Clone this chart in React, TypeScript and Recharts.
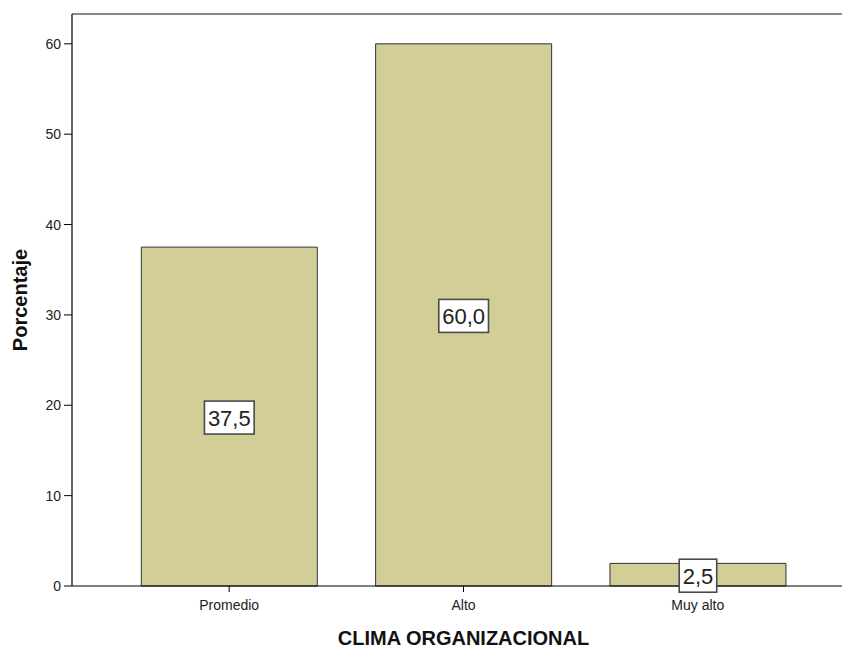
import { BarChart, Bar, XAxis, YAxis, LabelList, ReferenceLine } from 'recharts';

const categories = ['Promedio', 'Alto', 'Muy alto'];
const percentages = [37.5, 60.0, 2.5];
const yTicks = [0, 10, 20, 30, 40, 50, 60];
const yMax = 63.3;

const FONT = '"Liberation Sans", Arial, sans-serif';

const data = categories.map((name, i) => ({ name, pct: percentages[i] }));

const fmt = (v: number) => v.toFixed(1).replace('.', ',');

// white boxed value label in the middle of each bar
const ValueBox = (props: any) => {
  const { x, y, width, height, value } = props;
  const txt = fmt(Number(value));
  const cx = Number(x) + Number(width) / 2;
  const cy = Number(y) + Number(height) / 2 + 1;
  let w = 0;
  for (const ch of txt) w += ch === ',' ? 6.1 : 12.2;
  const bw = w + 7;
  const bh = 33;
  return (
    <g>
      <rect
        x={cx - bw / 2}
        y={cy - bh / 2}
        width={bw}
        height={bh}
        fill="#fff"
        stroke="#4a4a4a"
        strokeWidth={1.6}
      />
      <text
        x={cx}
        y={cy + 8}
        textAnchor="middle"
        fontFamily={FONT}
        fontSize={22}
        fill="#222"
      >
        {txt}
      </text>
    </g>
  );
};

const App = () => {
  return (
    <div style={{ position: 'absolute', left: 0, top: 0 }}>
      <BarChart
        width={842}
        height={648}
        data={data}
        margin={{ top: 14, right: 0, bottom: 0, left: 0 }}
        barCategoryGap="12.5%"
      >
        <XAxis
          dataKey="name"
          height={62}
          padding={{ left: 40, right: 27 }}
          axisLine={{ stroke: '#000', strokeWidth: 1.2 }}
          tickLine={{ stroke: '#000' }}
          tickSize={6}
          tickMargin={8}
          tick={{ fontSize: 14, fill: '#222', fontFamily: FONT }}
          label={{
            content: (p: any) => {
              const vb = p.viewBox;
              const cx = vb.x + 40 + (vb.width - 67) / 2;
              return (
                <text
                  x={cx}
                  y={645}
                  textAnchor="middle"
                  fontFamily={FONT}
                  fontWeight="bold"
                  fontSize={20}
                  fill="#111"
                >
                  CLIMA ORGANIZACIONAL
                </text>
              );
            },
          }}
        />
        <YAxis
          width={72}
          domain={[0, yMax]}
          ticks={yTicks}
          interval={0}
          axisLine={{ stroke: '#000', strokeWidth: 1.2 }}
          tickLine={{ stroke: '#000' }}
          tickSize={8}
          tickMargin={3}
          tick={{ fontSize: 14, fill: '#222', fontFamily: FONT }}
          label={{
            content: (p: any) => {
              const vb = p.viewBox;
              const cy = vb.y + vb.height / 2;
              return (
                <text
                  x={27}
                  y={cy}
                  transform={`rotate(-90, 27, ${cy})`}
                  textAnchor="middle"
                  fontFamily={FONT}
                  fontWeight="bold"
                  fontSize={20}
                  fill="#111"
                >
                  Porcentaje
                </text>
              );
            },
          }}
        />
        <ReferenceLine y={yMax} stroke="#888" strokeWidth={2} />
        <Bar
          dataKey="pct"
          fill="#D3CE98"
          stroke="#333"
          strokeWidth={1}
          isAnimationActive={false}
        >
          <LabelList dataKey="pct" content={ValueBox} />
        </Bar>
      </BarChart>
    </div>
  );
};

export default App;
